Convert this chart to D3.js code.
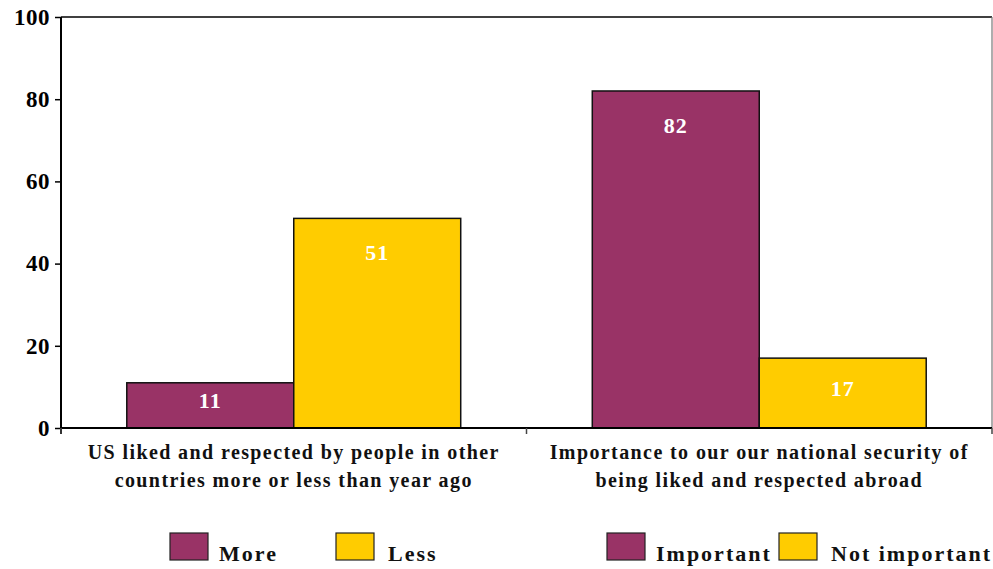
<!DOCTYPE html>
<html>
<head>
<meta charset="utf-8">
<script src="https://cdn.jsdelivr.net/npm/d3@7"></script>
<style>
  html, body { margin: 0; padding: 0; background: #fff; }
  svg { display: block; }
  svg text { font-family: "Liberation Serif", "Times New Roman", Times, serif; font-weight: bold; }
</style>
</head>
<body>
<svg id="chart" width="993" height="569"></svg>
<script>
// Survey questions (x categories) and the two answers shown for each
const categories = [
  ["US liked and respected by people in other", "countries more or less than year ago"],
  ["Importance to our our national security of", "being liked and respected abroad"]
];
const firstAnswers = ["More", "Important"];
const secondAnswers = ["Less", "Not important"];
const firstValues = [11, 82];
const secondValues = [51, 17];
const yTicks = [0, 20, 40, 60, 80, 100];
const legendLabels = ["More", "Less", "Important", "Not important"];

const purple = "#993366";
const yellow = "#FFCC00";
const serif = "'Liberation Serif', 'Times New Roman', Times, serif";

const svg = d3.select("#chart");
const plot = { left: 61, right: 992, top: 17, bottom: 428 };

const x = d3.scaleBand()
  .domain(d3.range(categories.length))
  .range([plot.left, plot.right])
  .paddingInner(0)
  .paddingOuter(0);

const y = d3.scaleLinear().domain([0, 100]).range([plot.bottom, plot.top]);

// bar positions within each category band
const inner = d3.scaleBand()
  .domain([0, 1])
  .range([0, x.bandwidth()])
  .paddingOuter(0.394)
  .paddingInner(0);

// plot frame: top and right edges
svg.append("line")
  .attr("x1", plot.left).attr("x2", plot.right)
  .attr("y1", plot.top).attr("y2", plot.top)
  .attr("stroke", "#000").attr("stroke-width", 1.5);
svg.append("line")
  .attr("x1", plot.right).attr("x2", plot.right)
  .attr("y1", plot.top).attr("y2", plot.bottom)
  .attr("stroke", "#777").attr("stroke-width", 1.2);

// bars
const rows = categories.map((c, i) => [
  { cat: i, k: 0, v: firstValues[i], color: purple },
  { cat: i, k: 1, v: secondValues[i], color: yellow }
]).flat();

svg.append("g").selectAll("rect").data(rows).join("rect")
  .attr("x", d => x(d.cat) + inner(d.k))
  .attr("y", d => y(d.v))
  .attr("width", inner.bandwidth())
  .attr("height", d => y(0) - y(d.v))
  .attr("fill", d => d.color)
  .attr("stroke", "#111")
  .attr("stroke-width", 1.5);

// value labels inside the bars
svg.append("g").selectAll("text").data(rows).join("text")
  .attr("x", d => x(d.cat) + inner(d.k) + inner.bandwidth() / 2)
  .attr("y", d => {
    const h = y(0) - y(d.v);
    return y(d.v) + Math.min(h * 0.5 + 3, 42);
  })
  .attr("text-anchor", "middle")
  .attr("fill", "#fff")
  .attr("font-family", serif)
  .attr("font-weight", "bold")
  .attr("font-size", 22)
  .attr("letter-spacing", 1)
  .text(d => d.v);

// y axis
const yAxis = d3.axisLeft(y).tickValues(yTicks).tickSize(6).tickPadding(5);
const gy = svg.append("g").attr("transform", `translate(${plot.left},0)`).call(yAxis);
gy.attr("font-family", serif);
gy.select(".domain").attr("stroke", "#000").attr("stroke-width", 2)
  .attr("d", `M0,${plot.top}V${plot.bottom + 6}`);
gy.selectAll(".tick line").attr("stroke", "#000").attr("stroke-width", 1.5);
gy.selectAll(".tick text")
  .attr("font-family", serif)
  .attr("font-weight", "bold")
  .attr("font-size", 23)
  .attr("fill", "#000")
  .attr("letter-spacing", 0.5);

// x axis baseline with category separators
const gx = svg.append("g").attr("transform", `translate(0,${plot.bottom})`);
gx.append("line")
  .attr("x1", plot.left).attr("x2", plot.right)
  .attr("stroke", "#000").attr("stroke-width", 2);
gx.selectAll("line.sep").data(d3.range(categories.length + 1)).join("line")
  .attr("class", "sep")
  .attr("x1", i => plot.left + i * x.bandwidth())
  .attr("x2", i => plot.left + i * x.bandwidth())
  .attr("y1", 0).attr("y2", 6)
  .attr("stroke", "#444").attr("stroke-width", 1.5);

// category labels (two lines each)
const catLabels = svg.append("g").selectAll("text").data(categories).join("text")
  .attr("text-anchor", "middle")
  .attr("font-family", serif)
  .attr("font-weight", "bold")
  .attr("font-size", 20)
  .attr("letter-spacing", 1.4)
  .attr("fill", "#111");
catLabels.each(function(lines, i) {
  d3.select(this).selectAll("tspan").data(lines).join("tspan")
    .attr("x", x(i) + x.bandwidth() / 2)
    .attr("y", (d, j) => 459 + j * 28)
    .text(d => d);
});

// legend
const legendX = [170, 336, 607, 779];
const legend = svg.append("g").selectAll("g").data(legendLabels).join("g")
  .attr("transform", (d, i) => `translate(${legendX[i]},533)`);
legend.append("rect")
  .attr("width", 38).attr("height", 27)
  .attr("fill", (d, i) => (i % 2 === 0 ? purple : yellow))
  .attr("stroke", "#222").attr("stroke-width", 1.2);
legend.append("text")
  .attr("x", (d, i) => (i % 2 === 0 ? 49 : 52))
  .attr("y", 28)
  .attr("font-family", serif)
  .attr("font-weight", "bold")
  .attr("font-size", 22)
  .attr("letter-spacing", 2)
  .attr("fill", "#111")
  .text(d => d);
</script>
</body>
</html>
